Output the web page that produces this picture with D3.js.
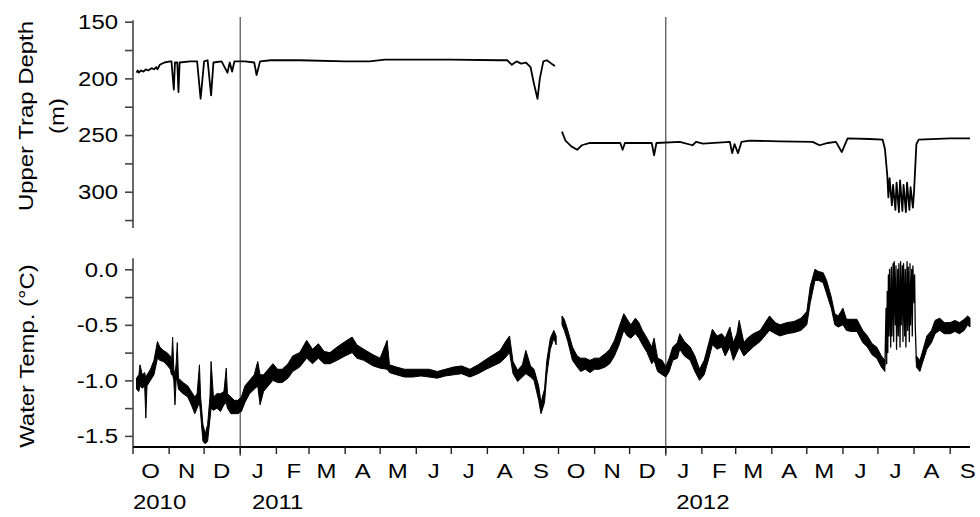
<!DOCTYPE html>
<html><head><meta charset="utf-8">
<script src="https://cdn.jsdelivr.net/npm/d3@7"></script>
<style>
body{margin:0;background:#fff}
text{font-family:"Liberation Sans",Arial,sans-serif;fill:#000}
</style>
</head><body>
<svg id="c" width="980" height="517"></svg>
<script>
// ---------- DATA ----------
const monthLetters = ["J","F","M","A","M","J","J","A","S","O","N","D"];
const yearLabels = [["2010-10-01","2010"],["2011-01-11","2011"],["2012-01-10","2012"]];
const yearMarkers = ["2011-01-01","2012-01-01"];
const depthTicks = [150,175,200,225,250,275,300,325];
const depthLabels = [150,200,250,300];
const tempTicks = [-1.5,-1.25,-1.0,-0.75,-0.5,-0.25,0.0];
const tempLabels = [-1.5,-1.0,-0.5,0.0];

// upper trap depth (m): [date, depth]
const depthDeploy1 = [
["2010-10-04",195],["2010-10-05",193],["2010-10-06",195],["2010-10-08",193],["2010-10-10",194],["2010-10-12",192],["2010-10-14",193],["2010-10-17",191],["2010-10-19",192],["2010-10-21",190],["2010-10-22",192],["2010-10-24",188],["2010-10-28",186],["2010-11-02",185],["2010-11-03",185],["2010-11-05",210],["2010-11-06",186],["2010-11-08",186],["2010-11-09",212],["2010-11-10",186],["2010-11-19",185],["2010-11-25",185],["2010-11-28",218],["2010-12-01",185],["2010-12-04",184],["2010-12-07",215],["2010-12-09",186],["2010-12-16",185],["2010-12-21",195],["2010-12-23",186],["2010-12-25",194],["2010-12-27",185],["2011-01-05",185],["2011-01-13",186],["2011-01-15",197],["2011-01-18",185],["2011-01-27",184],["2011-02-21",184],["2011-04-01",185],["2011-04-22",185],["2011-05-05",183.5],["2011-06-30",183.5],["2011-08-12",184],["2011-08-18",184],["2011-08-22",188],["2011-08-26",185],["2011-08-30",187],["2011-09-03",186],["2011-09-07",190],["2011-09-10",205],["2011-09-13",218],["2011-09-15",200],["2011-09-18",185],["2011-09-21",184],["2011-09-25",187],["2011-09-28",189]
];
const depthDeploy2 = [
["2011-10-04",247],["2011-10-07",255],["2011-10-12",260],["2011-10-17",263],["2011-10-21",259],["2011-10-28",257],["2011-11-10",257],["2011-11-23",257],["2011-11-25",263],["2011-11-27",257],["2011-12-20",257],["2011-12-22",268],["2011-12-24",257],["2012-01-13",256],["2012-01-24",259],["2012-01-27",256],["2012-02-02",257.5],["2012-02-25",256],["2012-02-27",266],["2012-02-29",258],["2012-03-03",266],["2012-03-06",256],["2012-03-13",255],["2012-04-08",255.5],["2012-05-06",256],["2012-05-12",259],["2012-05-19",257],["2012-05-26",256],["2012-05-31",265],["2012-06-05",253],["2012-06-24",253.5],["2012-07-05",254],["2012-07-07",262],["2012-07-09",285],["2012-07-10",305],["2012-07-11",288],["2012-07-13",312],["2012-07-14",294],["2012-07-16",316],["2012-07-17",292],["2012-07-19",318],["2012-07-20",290],["2012-07-22",317],["2012-07-23",294],["2012-07-25",318],["2012-07-26",292],["2012-07-28",316],["2012-07-29",296],["2012-07-31",314],["2012-08-01",300],["2012-08-03",258],["2012-08-05",254],["2012-09-01",253],["2012-09-18",253]
];

// water temperature (°C): [date, low, high] envelope of the noisy record
const tempDeploy1 = [
["2010-10-04",-1.08,-0.98],["2010-10-06",-1.1,-0.95],["2010-10-07",-1.05,-0.86],["2010-10-09",-1.07,-0.95],["2010-10-11",-1.05,-0.93],["2010-10-12",-1.34,-0.98],["2010-10-13",-1.05,-0.95],["2010-10-16",-1.0,-0.9],["2010-10-19",-0.95,-0.82],["2010-10-22",-0.8,-0.65],["2010-10-24",-0.82,-0.7],["2010-10-27",-0.83,-0.73],["2010-10-30",-0.86,-0.75],["2010-11-02",-0.9,-0.78],["2010-11-03",-0.95,-0.85],["2010-11-04",-0.95,-0.61],["2010-11-05",-1.0,-0.9],["2010-11-06",-1.22,-0.95],["2010-11-07",-1.0,-0.85],["2010-11-08",-1.0,-0.66],["2010-11-09",-1.08,-0.98],["2010-11-13",-1.12,-1.02],["2010-11-17",-1.15,-1.05],["2010-11-20",-1.22,-1.1],["2010-11-23",-1.3,-1.15],["2010-11-25",-1.25,-1.12],["2010-11-27",-1.2,-0.86],["2010-11-28",-1.3,-1.15],["2010-11-30",-1.55,-1.4],["2010-12-02",-1.57,-1.48],["2010-12-04",-1.55,-1.4],["2010-12-06",-1.35,-1.15],["2010-12-07",-1.25,-0.83],["2010-12-09",-1.27,-1.15],["2010-12-12",-1.25,-1.12],["2010-12-15",-1.28,-1.12],["2010-12-18",-1.22,-1.1],["2010-12-20",-1.2,-0.89],["2010-12-21",-1.25,-1.12],["2010-12-24",-1.3,-1.15],["2010-12-27",-1.3,-1.18],["2010-12-30",-1.3,-1.18],["2011-01-02",-1.28,-1.15],["2011-01-05",-1.2,-1.05],["2011-01-09",-1.12,-1.0],["2011-01-13",-1.08,-0.95],["2011-01-16",-1.05,-0.83],["2011-01-18",-1.22,-0.95],["2011-01-21",-1.1,-0.95],["2011-01-25",-1.05,-0.9],["2011-01-29",-1.0,-0.85],["2011-02-02",-1.02,-0.9],["2011-02-06",-1.02,-0.9],["2011-02-11",-0.98,-0.85],["2011-02-15",-0.92,-0.78],["2011-02-21",-0.88,-0.75],["2011-02-27",-0.8,-0.64],["2011-03-04",-0.85,-0.72],["2011-03-09",-0.8,-0.67],["2011-03-14",-0.85,-0.74],["2011-03-19",-0.85,-0.75],["2011-03-25",-0.82,-0.7],["2011-04-01",-0.78,-0.65],["2011-04-07",-0.75,-0.61],["2011-04-11",-0.8,-0.68],["2011-04-17",-0.82,-0.72],["2011-04-25",-0.87,-0.77],["2011-05-01",-0.89,-0.8],["2011-05-07",-0.9,-0.64],["2011-05-09",-0.93,-0.86],["2011-05-15",-0.95,-0.88],["2011-05-22",-0.97,-0.9],["2011-05-29",-0.97,-0.9],["2011-06-05",-0.96,-0.9],["2011-06-12",-0.97,-0.9],["2011-06-19",-0.98,-0.92],["2011-06-26",-0.96,-0.9],["2011-07-03",-0.95,-0.88],["2011-07-10",-0.94,-0.87],["2011-07-17",-0.97,-0.9],["2011-07-24",-0.94,-0.86],["2011-07-31",-0.9,-0.81],["2011-08-06",-0.87,-0.77],["2011-08-12",-0.84,-0.73],["2011-08-16",-0.8,-0.66],["2011-08-20",-0.75,-0.6],["2011-08-23",-0.94,-0.83],["2011-08-27",-1.01,-0.91],["2011-08-31",-0.97,-0.86],["2011-09-03",-0.94,-0.73],["2011-09-07",-0.97,-0.87],["2011-09-10",-1.0,-0.9],["2011-09-14",-1.18,-1.05],["2011-09-16",-1.3,-1.2],["2011-09-19",-1.2,-1.08],["2011-09-21",-0.95,-0.82],["2011-09-24",-0.72,-0.62],["2011-09-27",-0.62,-0.55],["2011-09-29",-0.68,-0.6]
];
const tempDeploy2 = [
["2011-10-04",-0.5,-0.42],["2011-10-06",-0.55,-0.45],["2011-10-09",-0.65,-0.55],["2011-10-13",-0.82,-0.7],["2011-10-17",-0.88,-0.78],["2011-10-20",-0.92,-0.8],["2011-10-24",-0.9,-0.8],["2011-10-28",-0.93,-0.82],["2011-11-01",-0.9,-0.8],["2011-11-05",-0.9,-0.8],["2011-11-10",-0.88,-0.76],["2011-11-14",-0.85,-0.72],["2011-11-18",-0.78,-0.64],["2011-11-22",-0.68,-0.52],["2011-11-26",-0.55,-0.4],["2011-11-29",-0.6,-0.45],["2011-12-02",-0.62,-0.5],["2011-12-06",-0.58,-0.44],["2011-12-09",-0.62,-0.48],["2011-12-12",-0.68,-0.55],["2011-12-16",-0.75,-0.62],["2011-12-20",-0.85,-0.7],["2011-12-22",-0.82,-0.62],["2011-12-25",-0.92,-0.8],["2011-12-29",-0.95,-0.82],["2012-01-01",-0.97,-0.88],["2012-01-04",-0.92,-0.8],["2012-01-07",-0.82,-0.7],["2012-01-11",-0.8,-0.66],["2012-01-13",-0.72,-0.58],["2012-01-17",-0.78,-0.65],["2012-01-22",-0.82,-0.7],["2012-01-26",-0.92,-0.78],["2012-01-30",-1.0,-0.9],["2012-02-03",-0.95,-0.82],["2012-02-07",-0.8,-0.66],["2012-02-10",-0.68,-0.54],["2012-02-14",-0.72,-0.6],["2012-02-18",-0.7,-0.58],["2012-02-21",-0.78,-0.62],["2012-02-25",-0.7,-0.52],["2012-02-28",-0.82,-0.66],["2012-03-02",-0.75,-0.58],["2012-03-04",-0.7,-0.46],["2012-03-08",-0.78,-0.66],["2012-03-11",-0.75,-0.62],["2012-03-16",-0.7,-0.58],["2012-03-22",-0.65,-0.55],["2012-03-30",-0.55,-0.42],["2012-04-04",-0.58,-0.48],["2012-04-08",-0.6,-0.5],["2012-04-14",-0.58,-0.48],["2012-04-20",-0.57,-0.47],["2012-04-26",-0.55,-0.44],["2012-05-01",-0.5,-0.38],["2012-05-04",-0.3,-0.15],["2012-05-08",-0.1,0.0],["2012-05-11",-0.1,-0.02],["2012-05-15",-0.12,-0.03],["2012-05-18",-0.22,-0.1],["2012-05-22",-0.35,-0.25],["2012-05-25",-0.5,-0.4],["2012-05-28",-0.52,-0.42],["2012-06-01",-0.5,-0.35],["2012-06-04",-0.55,-0.45],["2012-06-08",-0.56,-0.45],["2012-06-13",-0.56,-0.45],["2012-06-18",-0.66,-0.55],["2012-06-22",-0.7,-0.6],["2012-06-26",-0.77,-0.67],["2012-06-30",-0.8,-0.7],["2012-07-04",-0.88,-0.78],["2012-07-07",-0.92,-0.82]
];
// rapid oscillation in July 2012: [time, value]
const tempJulyOsc = [
["2012-07-07",-0.87],["2012-07-08",-0.35],["2012-07-08T12:00Z",-0.85],["2012-07-09",-0.2],["2012-07-09T12:00Z",-0.75],["2012-07-10",-0.05],["2012-07-10T12:00Z",-0.6],["2012-07-11",0.0],["2012-07-12",-0.7],["2012-07-12T12:00Z",0.02],["2012-07-13",-0.6],["2012-07-14",0.05],["2012-07-14T12:00Z",-0.65],["2012-07-15",0.07],["2012-07-16",-0.5],["2012-07-16T12:00Z",0.03],["2012-07-17",-0.72],["2012-07-18",0.0],["2012-07-18T12:00Z",-0.6],["2012-07-19",0.05],["2012-07-20",-0.7],["2012-07-20T12:00Z",0.07],["2012-07-21",-0.5],["2012-07-22",0.03],["2012-07-22T12:00Z",-0.65],["2012-07-23",0.05],["2012-07-24",-0.6],["2012-07-24T12:00Z",0.0],["2012-07-25",-0.7],["2012-07-26",0.07],["2012-07-26T12:00Z",-0.55],["2012-07-27",0.02],["2012-07-28",-0.65],["2012-07-28T12:00Z",0.05],["2012-07-29",-0.5],["2012-07-30",0.0],["2012-07-30T12:00Z",-0.6],["2012-07-31",0.03],["2012-08-01",-0.3],["2012-08-01T12:00Z",-0.05],["2012-08-02",-0.5],["2012-08-03",-0.84]
];
const tempDeploy3 = [
["2012-08-03",-0.88,-0.78],["2012-08-06",-0.92,-0.82],["2012-08-08",-0.85,-0.75],["2012-08-12",-0.72,-0.6],["2012-08-16",-0.66,-0.55],["2012-08-19",-0.58,-0.46],["2012-08-23",-0.55,-0.44],["2012-08-27",-0.58,-0.48],["2012-09-01",-0.58,-0.48],["2012-09-05",-0.56,-0.46],["2012-09-09",-0.58,-0.48],["2012-09-13",-0.55,-0.45],["2012-09-16",-0.5,-0.42],["2012-09-18",-0.52,-0.44]
];

// ---------- CHART ----------
const SX = 1.14; // horizontal stretch of glyphs (wide typeface look)
const parse = s => d3.isoParse(s);
const svg = d3.select("#c");
const x0 = parse("2010-10-01"), x1 = parse("2012-09-18");
const x = d3.scaleUtc().domain([x0, x1]).range([133, 970]);
const yD = d3.scaleLinear().domain([150, 332]).range([21.7, 228]);
const yT = d3.scaleLinear().domain([-1.6, 0.1]).range([447, 258.2]);

function stretch(sel){
  sel.each(function(){
    const t = d3.select(this);
    const tx = +t.attr("x") || 0;
    t.attr("transform", `translate(${tx},0) scale(${SX},1) translate(${-tx},0)`);
  });
}

// year marker lines
svg.append("g").selectAll("line").data(yearMarkers).join("line")
  .attr("x1", d => x(parse(d))).attr("x2", d => x(parse(d)))
  .attr("y1", 17).attr("y2", 456)
  .attr("stroke", "#666").attr("stroke-width", 1.4);

// y-axes
const gD = svg.append("g").attr("transform", "translate(133,0)")
  .call(d3.axisLeft(yD).tickValues(depthTicks).tickSize(8).tickPadding(7)
    .tickFormat(d => depthLabels.includes(d) ? String(d) : ""));
const gT = svg.append("g").attr("transform", "translate(133,0)")
  .call(d3.axisLeft(yT).tickValues(tempTicks).tickSize(8).tickPadding(7)
    .tickFormat(d => tempLabels.some(v => Math.abs(v - d) < 1e-9) ? d.toFixed(1) : ""));
[gD, gT].forEach(g => {
  g.select(".domain").attr("stroke", "#444").attr("stroke-width", 1.6);
  g.selectAll(".tick line").attr("stroke", "#444").attr("stroke-width", 1.6);
  g.selectAll(".tick text").attr("font-size", 21).attr("fill", "#000")
    .style("font-family", '"Liberation Sans",Arial,sans-serif').call(stretch);
});
gD.select(".domain").attr("d", `M0,${yD.range()[0]-1.5}V${yD.range()[1]}`);
gT.select(".domain").attr("d", `M0,${yT.range()[1]}V${yT.range()[0]}`);

// x axis
const months = d3.utcMonth.range(x0, x1);
const gx = svg.append("g");
gx.append("line").attr("x1", 133).attr("x2", 970).attr("y1", 447).attr("y2", 447)
  .attr("stroke", "#000").attr("stroke-width", 2);
gx.selectAll("line.tk").data(months).join("line").attr("class", "tk")
  .attr("x1", d => x(d)).attr("x2", d => x(d)).attr("y1", 447).attr("y2", 454)
  .attr("stroke", "#222").attr("stroke-width", 1.4);
gx.selectAll("text.mo").data(months).join("text").attr("class", "mo")
  .attr("x", d => x(d3.utcDay.offset(d, 15))).attr("y", 478)
  .attr("text-anchor", "middle").attr("font-size", 21)
  .text(d => monthLetters[d.getUTCMonth()]).call(stretch);
gx.selectAll("text.yr").data(yearLabels).join("text").attr("class", "yr")
  .attr("x", d => x(parse(d[0]))).attr("y", 509)
  .attr("text-anchor", "start").attr("font-size", 21)
  .text(d => d[1]).call(stretch);

// axis titles
function vtitle(cx, cy, txt){
  svg.append("text").attr("transform", `translate(${cx},${cy}) rotate(-90) scale(${SX},1)`)
    .attr("text-anchor", "middle").attr("font-size", 21).text(txt);
}
vtitle(33, 116, "Upper Trap Depth");
vtitle(64, 116, "(m)");
vtitle(34, 356, "Water Temp. (°C)");

// depth lines
const lineD = d3.line().x(d => x(parse(d[0]))).y(d => yD(d[1]));
[depthDeploy1, depthDeploy2].forEach(s => svg.append("path").attr("d", lineD(s))
  .attr("fill", "none").attr("stroke", "#000").attr("stroke-width", 1.8).attr("stroke-linejoin", "round"));

// temperature bands
const areaT = d3.area().x(d => x(parse(d[0]))).y0(d => yT(d[1])).y1(d => yT(d[2]));
[tempDeploy1, tempDeploy2, tempDeploy3].forEach(s => svg.append("path").attr("d", areaT(s))
  .attr("fill", "#000").attr("stroke", "#000").attr("stroke-width", 1).attr("stroke-linejoin", "round"));
const lineT = d3.line().x(d => x(parse(d[0]))).y(d => yT(d[1]));
svg.append("path").attr("d", lineT(tempJulyOsc))
  .attr("fill", "none").attr("stroke", "#000").attr("stroke-width", 1.3).attr("stroke-linejoin", "round");
</script>
</body></html>
